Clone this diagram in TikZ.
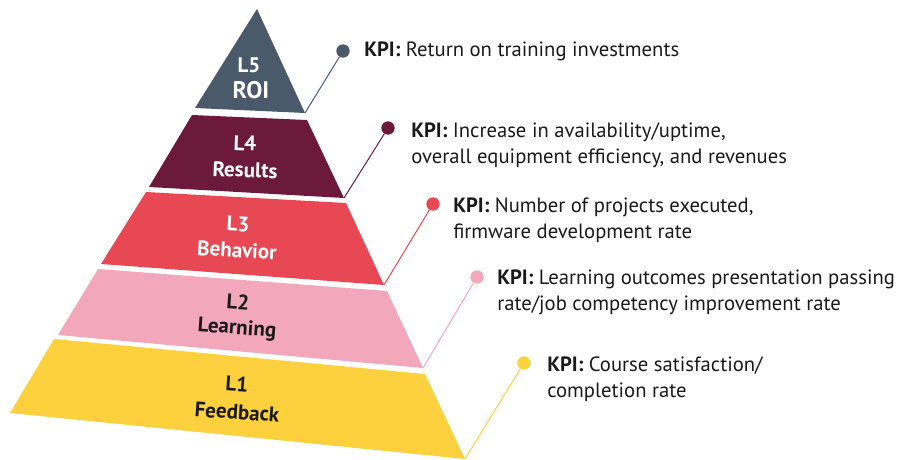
\documentclass[tikz,border=0pt]{standalone}
\usepackage{fontspec}
\setmainfont{PT Sans}
\definecolor{cFive}{HTML}{4A5A6A}
\definecolor{cFour}{HTML}{6B1A3C}
\definecolor{cThree}{HTML}{E84754}
\definecolor{cTwo}{HTML}{F2A7BB}
\definecolor{cOne}{HTML}{FDD13D}
\definecolor{txt}{HTML}{1A1A1A}
\begin{document}
\begin{tikzpicture}[x=0.75pt,y=-0.75pt,
  tierlabel/.style={font=\bfseries\fontsize{15.8}{18}\selectfont, inner sep=0pt},
  kpi/.style={anchor=base west, font=\fontsize{15.5}{19.5}\selectfont, inner sep=0pt, text=txt},
  kdot/.style={circle, fill=#1, minimum size=10pt, inner sep=0pt},
  conn/.style={draw=#1, line width=0.75pt}]
\useasboundingbox (0,0) rectangle (899,460);
% corners
\coordinate (A) at (257,9);
\coordinate (t5l) at (195,108); \coordinate (t5r) at (305,113);
\coordinate (t4a) at (192,115); \coordinate (t4b) at (307,120);
\coordinate (t4c) at (344,198); \coordinate (t4d) at (149,187);
\coordinate (t3a) at (146,192); \coordinate (t3b) at (346,203);
\coordinate (t3c) at (384,285); \coordinate (t3d) at (101,264);
\coordinate (t2a) at (98,269); \coordinate (t2b) at (387,291);
\coordinate (t2c) at (423,368); \coordinate (t2d) at (58,335);
\coordinate (t1a) at (54,339); \coordinate (t1b) at (425,374);
\coordinate (t1c) at (465,459); \coordinate (t1d) at (10,413);
% tiers
\fill[cFive] (A) -- (t5r) -- (t5l) -- cycle;
\fill[cFour] (t4a) -- (t4b) -- (t4c) -- (t4d) -- cycle;
\fill[cThree] (t3a) -- (t3b) -- (t3c) -- (t3d) -- cycle;
\fill[cTwo] (t2a) -- (t2b) -- (t2c) -- (t2d) -- cycle;
\fill[cOne] (t1a) -- (t1b) -- (t1c) -- (t1d) -- cycle;
% tier labels
\node[tierlabel, text=white] (l5a) at (249,65) {L5};
\node[tierlabel, text=white, font=\bfseries\fontsize{18}{20}\selectfont] (l5b) at (251,90) {ROI};
\node[tierlabel, text=white, rotate=-2] (l4a) at (245,143) {L4};
\node[tierlabel, text=white, rotate=-2] (l4b) at (245,170) {Results};
\node[tierlabel, text=white, rotate=-3] (l3a) at (238,224) {L3};
\node[tierlabel, text=white, rotate=-3] (l3b) at (237,250) {Behavior};
\node[tierlabel, text=txt, rotate=-4] (l2a) at (238,302) {L2};
\node[tierlabel, text=txt, rotate=-4] (l2b) at (237,329) {Learning};
\node[tierlabel, text=txt, rotate=-4] (l1a) at (237,384) {L1};
\node[tierlabel, text=txt, rotate=-4] (l1b) at (237,412) {Feedback};
% dots
\node[kdot=cFive] (d5) at (343,51) {};
\node[kdot=cFour] (d4) at (388,128) {};
\node[kdot=cThree] (d3) at (433,204) {};
\node[kdot=cTwo] (d2) at (477,277) {};
\node[kdot=cOne] (d1) at (524,363) {};
% connectors
\draw[conn=cFive] (t5r) -- (d5);
\draw[conn=cFour] (t4c) -- (d4);
\draw[conn=cThree] (t3c) -- (d3);
\draw[conn=cTwo] (t2c) -- (d2);
\draw[conn=cOne] (t1c) -- (d1);
% KPI texts
\node[kpi] (k5) at (364,57) {\textbf{KPI:} Return on training investments};
\node[kpi] (k4a) at (411,137) {\textbf{KPI:} Increase in availability/uptime,};
\node[kpi] (k4b) at (411,163) {overall equipment efficiency, and revenues};
\node[kpi] (k3a) at (453,212) {\textbf{KPI:} Number of projects executed,};
\node[kpi] (k3b) at (453,238) {firmware development rate};
\node[kpi] (k2a) at (497,284) {\textbf{KPI:} Learning outcomes presentation passing};
\node[kpi] (k2b) at (497,310) {rate/job competency improvement rate};
\node[kpi] (k1a) at (547,371) {\textbf{KPI:} Course satisfaction/};
\node[kpi] (k1b) at (547,397) {completion rate};
\end{tikzpicture}
\end{document}
